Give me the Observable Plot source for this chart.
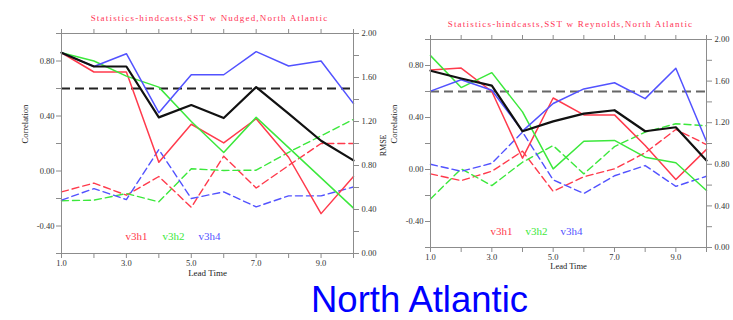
<!DOCTYPE html>
<html><head><meta charset="utf-8">
<script src="https://cdn.jsdelivr.net/npm/d3@7"></script>
<script src="https://cdn.jsdelivr.net/npm/@observablehq/plot@0.6"></script>
<style>
body{margin:0;background:#fff;}
#wrap{position:relative;width:733px;height:320px;overflow:hidden;background:#fff;}
#wrap svg{position:absolute;top:0;background:none !important;max-width:none !important;overflow:visible;}
#caption{position:absolute;left:311px;top:285px;font-family:"Liberation Sans",Arial,sans-serif;font-size:36.5px;line-height:30px;color:#0000ff;white-space:nowrap;}
</style></head><body>
<div id="wrap"><div id="caption">North Atlantic</div></div>
<script>
// ---- data ----
const leadTime = [1, 2, 3, 4, 5, 6, 7, 8, 9, 10];
const leadTickLabels = ["1.0", "", "3.0", "", "5.0", "", "7.0", "", "9.0", ""];
const corrDomain = [-0.6, 1.0];
const rmseDomain = [0, 2.0];
const corrTickValues = [-0.6, -0.4, -0.2, 0, 0.2, 0.4, 0.6, 0.8, 1.0];
const corrTickLabels = ["", "-0.40", "", "0.00", "", "0.40", "", "0.80", ""];
const rmseTickValues = [0, 0.2, 0.4, 0.6, 0.8, 1.0, 1.2, 1.4, 1.6, 1.8, 2.0];
const rmseTickLabels = ["0.00", "", "0.40", "", "0.80", "", "1.20", "", "1.60", "", "2.00"];
const corrThreshold = 0.6;
const seriesNames = ["v3h1", "v3h2", "v3h4"];

// Panel 1: SST w Nudged
const nudgedCorrBlack = [0.86, 0.76, 0.76, 0.39, 0.48, 0.385, 0.61, 0.417, 0.22, 0.077];
const nudgedCorrV3h1 = [0.86, 0.72, 0.72, 0.063, 0.34, 0.204, 0.38, 0.10, -0.31, -0.04];
const nudgedCorrV3h2 = [0.86, 0.80, 0.69, 0.61, 0.36, 0.135, 0.39, 0.17, -0.05, -0.27];
const nudgedCorrV3h4 = [0.86, 0.76, 0.853, 0.424, 0.70, 0.70, 0.868, 0.764, 0.80, 0.49];
const nudgedRmseV3h1 = [0.56, 0.64, 0.53, 0.70, 0.42, 0.885, 0.595, 0.80, 1.0, 1.0];
const nudgedRmseV3h2 = [0.48, 0.485, 0.545, 0.47, 0.77, 0.755, 0.757, 0.92, 1.07, 1.22];
const nudgedRmseV3h4 = [0.485, 0.59, 0.49, 0.945, 0.50, 0.56, 0.424, 0.524, 0.524, 0.605];

// Panel 2: SST w Reynolds
const reynoldsCorrBlack = [0.76, 0.70, 0.645, 0.294, 0.37, 0.43, 0.456, 0.294, 0.325, 0.07];
const reynoldsCorrV3h1 = [0.766, 0.78, 0.60, 0.087, 0.55, 0.42, 0.42, 0.185, -0.077, 0.155];
const reynoldsCorrV3h2 = [0.876, 0.63, 0.745, 0.443, 0.005, 0.217, 0.224, 0.095, 0.052, -0.162];
const reynoldsCorrV3h4 = [0.603, 0.69, 0.61, 0.295, 0.508, 0.62, 0.667, 0.545, 0.779, 0.215];
const reynoldsRmseV3h1 = [0.708, 0.643, 0.733, 0.926, 0.54, 0.68, 0.756, 0.91, 1.135, 0.99];
const reynoldsRmseV3h2 = [0.467, 0.756, 0.595, 0.82, 0.98, 0.708, 0.97, 1.11, 1.19, 1.17];
const reynoldsRmseV3h4 = [0.80, 0.733, 0.81, 1.11, 0.65, 0.52, 0.69, 0.788, 0.588, 0.685];

// ---- helpers ----
const COLORS = {v3h1: "#ff3a4c", v3h2: "#3ce83c", v3h4: "#5252ff"};
const SERIF = "Liberation Serif, DejaVu Serif, serif";
const toCorr = r => corrDomain[0] + (r - rmseDomain[0]) * (corrDomain[1] - corrDomain[0]) / (rmseDomain[1] - rmseDomain[0]);
const lookup = (vals, labels) => d => { const i = vals.findIndex(v => Math.abs(v - d) < 1e-9); return i < 0 ? "" : labels[i]; };
const rmseAsCorr = rmseTickValues.map(toCorr);

function panel(cfg) {
  const [mt, mr, mb, ml] = cfg.margin;
  const solid = (arr, color, w) => Plot.line(leadTime, {x: leadTime, y: arr, stroke: color, strokeWidth: w});
  const dashed = (arr, color) => Plot.line(leadTime, {x: leadTime, y: arr.map(toCorr), stroke: color, strokeWidth: 1.4, strokeDasharray: "7,4"});
  const extra = [];
  if (cfg.showRmseLabel) extra.push(Plot.text(["RMSE"], {frameAnchor: "right", dx: 30, dy: -9, rotate: -90, fill: "#222", fontSize: 8, fontFamily: SERIF}));
  const svg = Plot.plot({
    width: cfg.width, height: cfg.height,
    marginTop: mt, marginRight: mr, marginBottom: mb, marginLeft: ml,
    x: {domain: [1, 10], axis: null},
    y: {domain: corrDomain, axis: null},
    style: {fontFamily: SERIF, fontSize: "8.5px", background: "none", overflow: "visible"},
    marks: [
      Plot.ruleY([corrThreshold], {stroke: cfg.thrColor, strokeWidth: 1.8, strokeDasharray: "9,5"}),
      dashed(cfg.rmse[0], COLORS.v3h1),
      dashed(cfg.rmse[1], COLORS.v3h2),
      dashed(cfg.rmse[2], COLORS.v3h4),
      solid(cfg.corr[0], COLORS.v3h1, 1.5),
      solid(cfg.corr[1], COLORS.v3h2, 1.5),
      solid(cfg.corr[2], COLORS.v3h4, 1.5),
      solid(cfg.black, "#111", 2.2),
      Plot.frame({stroke: "#8c8c8c"}),
      Plot.axisX({anchor: "bottom", ticks: leadTime, tickSize: 5, tickPadding: 1, tickFormat: lookup(leadTime, leadTickLabels), label: null, stroke: "#8c8c8c", fill: "#333"}),
      Plot.axisX({anchor: "top", ticks: leadTime, tickSize: 5, tickFormat: () => "", label: null, stroke: "#8c8c8c"}),
      Plot.axisY({anchor: "left", ticks: corrTickValues, tickSize: 5, tickPadding: 2, tickFormat: lookup(corrTickValues, corrTickLabels), label: null, stroke: "#8c8c8c", fill: "#333"}),
      Plot.axisY({anchor: "right", ticks: rmseAsCorr, tickSize: 5, tickPadding: 3, tickFormat: lookup(rmseAsCorr, rmseTickLabels), label: null, stroke: "#8c8c8c", fill: "#333", textAnchor: "start"}),
      Plot.text([cfg.title], {frameAnchor: "top", dx: 2, dy: -19, fill: "#ff3355", fontSize: 9, fontFamily: SERIF}),
      Plot.text(["Lead Time"], {frameAnchor: "bottom", dy: cfg.leadDy, fill: "#222", fontSize: cfg.leadSize, fontFamily: SERIF}),
      Plot.text(["Correlation"], {frameAnchor: "left", dx: -36, rotate: -90, fill: "#222", fontSize: 8.5, fontFamily: SERIF}),
      ...extra,
      ...seriesNames.map((n, i) => Plot.text([n], {frameAnchor: "bottom", dx: cfg.legendDx[i], dy: cfg.legendDy, fill: COLORS[n], fontSize: 11, fontFamily: SERIF}))
    ]
  });
  // widen the title's letter spacing as in the original
  svg.querySelectorAll("text").forEach(t => { if (t.textContent === cfg.title) t.style.letterSpacing = "1.2px"; });
  return svg;
}

const wrap = document.getElementById("wrap");

const left = panel({
  width: 400, height: 280, margin: [33, 47, 27, 61],
  title: "Statistics-hindcasts,SST w Nudged,North Atlantic",
  corr: [nudgedCorrV3h1, nudgedCorrV3h2, nudgedCorrV3h4], black: nudgedCorrBlack,
  rmse: [nudgedRmseV3h1, nudgedRmseV3h2, nudgedRmseV3h4],
  thrColor: "#222", leadDy: 22, leadSize: 9, legendDx: [-71, -34, 2], legendDy: -14, showRmseLabel: true
});
left.style.left = "0px";
wrap.appendChild(left);

const right = panel({
  width: 363, height: 280, margin: [39, 27, 33, 60],
  title: "Statistics-hindcasts,SST w Reynolds,North Atlantic",
  corr: [reynoldsCorrV3h1, reynoldsCorrV3h2, reynoldsCorrV3h4], black: reynoldsCorrBlack,
  rmse: [reynoldsRmseV3h1, reynoldsRmseV3h2, reynoldsRmseV3h4],
  thrColor: "#666", leadDy: 21, leadSize: 8.5, legendDx: [-67, -32, 3], legendDy: -13, showRmseLabel: false
});
right.style.left = "370px";
wrap.appendChild(right);
</script>
</body></html>
